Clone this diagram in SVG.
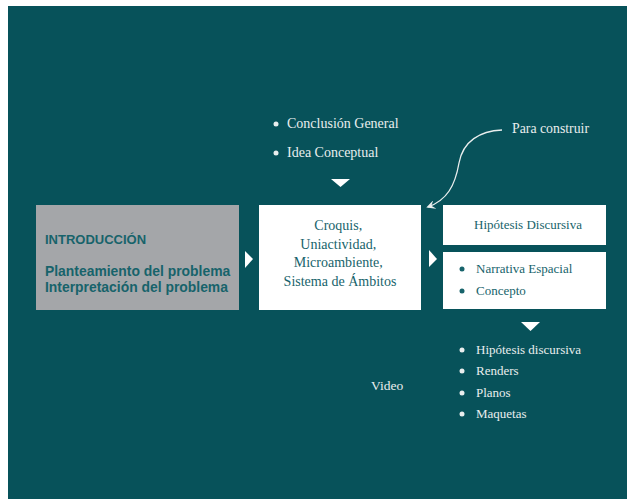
<svg xmlns="http://www.w3.org/2000/svg" width="627" height="499" viewBox="0 0 627 499">
<style>
.serif{font-family:"Liberation Serif","Times New Roman",serif}
.lt{fill:#e9eeee}
.dk{fill:#17636b}
.sans{font-family:"Liberation Sans",Arial,sans-serif;font-weight:bold}
.box{fill:#ffffff}
.tri{fill:#ffffff}
</style>
<defs>
<marker id="ah" viewBox="0 0 10 10" refX="8" refY="5" markerWidth="9" markerHeight="9" orient="auto" markerUnits="userSpaceOnUse">
<path d="M10,5 L0,0 L4,5 L0,10 Z" fill="#e9eeee"/>
</marker>
</defs>
<rect x="0" y="0" width="627" height="499" fill="#ffffff"/>
<rect x="8" y="6" width="619" height="493" fill="#07525a"/>

<g id="intro">
<rect x="36" y="205" width="203" height="105" fill="#a4a6a9"/>
<text class="sans dk" x="45" y="244" font-size="13">INTRODUCCIÓN</text>
<text class="sans dk" x="45" y="276" font-size="13.9">Planteamiento del problema</text>
<text class="sans dk" x="45" y="292" font-size="13.9">Interpretación del problema</text>
</g>

<g id="croquis">
<rect class="box" x="259" y="205" width="162" height="105"/>
<text class="serif dk" font-size="14" text-anchor="middle">
<tspan x="340" y="230">Croquis,</tspan>
<tspan x="340" y="249">Uniactividad,</tspan>
<tspan x="340" y="267">Microambiente,</tspan>
<tspan x="340" y="286">Sistema de Ámbitos</tspan>
</text>
</g>

<g id="hipotesis">
<rect class="box" x="443" y="205" width="163" height="40"/>
<text class="serif dk" x="528" y="229" font-size="13" text-anchor="middle">Hipótesis Discursiva</text>
</g>

<g id="narrativa">
<rect class="box" x="443" y="252" width="163" height="57"/>
<circle class="dk" cx="462" cy="269" r="2.5"/>
<text class="serif dk" x="476" y="273" font-size="13">Narrativa Espacial</text>
<circle class="dk" cx="462" cy="291" r="2.5"/>
<text class="serif dk" x="476" y="295" font-size="13">Concepto</text>
</g>

<g id="conclusion">
<circle class="lt" cx="276" cy="124" r="2.5"/>
<text class="serif lt" x="287" y="128" font-size="14">Conclusión General</text>
<circle class="lt" cx="276" cy="153" r="2.5"/>
<text class="serif lt" x="287" y="157" font-size="14">Idea Conceptual</text>
</g>

<g id="para-construir">
<text class="serif lt" x="512" y="133" font-size="13.8">Para construir</text>
</g>

<g id="entregables">
<circle class="lt" cx="462" cy="350" r="2.5"/>
<text class="serif lt" x="476" y="354" font-size="13">Hipótesis discursiva</text>
<circle class="lt" cx="462" cy="371" r="2.5"/>
<text class="serif lt" x="476" y="375" font-size="13">Renders</text>
<circle class="lt" cx="462" cy="393" r="2.5"/>
<text class="serif lt" x="476" y="397" font-size="13">Planos</text>
<circle class="lt" cx="462" cy="414" r="2.5"/>
<text class="serif lt" x="476" y="418" font-size="13">Maquetas</text>
</g>

<g id="video">
<text class="serif lt" x="371" y="390" font-size="13.5">Video</text>
</g>

<g id="connectors">
<polygon class="tri" points="245,251 253,259 245,268"/>
<polygon class="tri" points="429,250 437,259 429,267"/>
<polygon class="tri" points="331,179 350,179 340.5,187"/>
<polygon class="tri" points="521,322 540,322 530.5,331"/>
<path d="M502,130 C480,131 463,141 459,163 C455,186 447,200 428,207" fill="none" stroke="#e9eeee" stroke-width="1.3" marker-end="url(#ah)"/>
</g>
</svg>
